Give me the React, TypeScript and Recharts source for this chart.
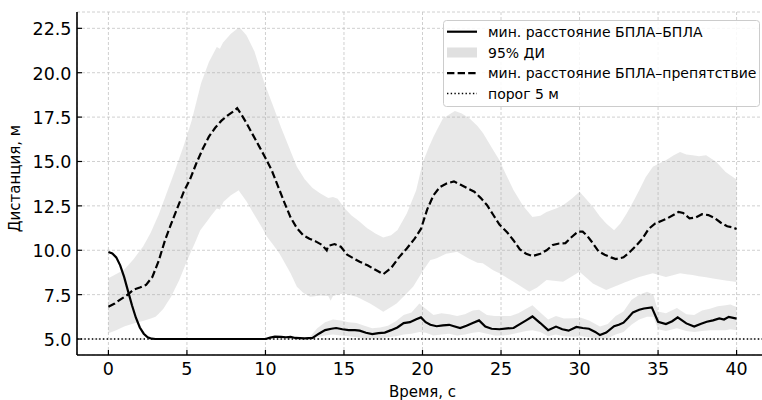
import React from 'react';
import { ComposedChart, Line, Area, XAxis, YAxis, CartesianGrid, ReferenceLine, Legend } from 'recharts';

// ---- data ----
const uavTime = [0, 0.25, 0.5, 0.75, 1.0, 1.25, 1.5, 1.75, 2.0, 2.25, 2.5, 2.75, 3.0, 10.0, 10.3, 10.6, 11.0, 11.3, 11.6, 11.9, 12.5, 13.0, 13.4, 13.8, 14.2, 14.5, 14.9, 15.3, 15.7, 16.0, 16.4, 16.8, 17.2, 17.6, 18.0, 18.4, 18.8, 19.2, 19.6, 19.9, 20.2, 20.5, 20.9, 21.3, 21.7, 22.0, 22.4, 22.8, 23.2, 23.6, 24.0, 24.4, 24.9, 25.4, 25.8, 26.2, 26.6, 27.0, 27.5, 28.0, 28.5, 28.9, 29.3, 29.8, 30.2, 30.6, 31.0, 31.3, 31.7, 32.2, 32.5, 32.8, 33.1, 33.4, 33.8, 34.1, 34.6, 35.0, 35.5, 35.9, 36.25, 36.8, 37.3, 37.7, 38.1, 38.5, 38.9, 39.2, 39.5, 40.0];
const uavDist = [9.9, 9.82, 9.6, 9.15, 8.5, 7.7, 6.9, 6.2, 5.65, 5.3, 5.1, 5.02, 5.0, 5.0, 5.08, 5.13, 5.12, 5.1, 5.12, 5.06, 5.04, 5.06, 5.3, 5.5, 5.58, 5.62, 5.55, 5.5, 5.5, 5.47, 5.35, 5.28, 5.33, 5.36, 5.5, 5.65, 5.9, 5.95, 6.12, 6.22, 5.95, 5.8, 5.72, 5.77, 5.8, 5.72, 5.62, 5.75, 5.9, 6.05, 5.7, 5.58, 5.55, 5.6, 5.62, 5.84, 6.05, 6.27, 5.9, 5.5, 5.7, 5.55, 5.47, 5.68, 5.62, 5.58, 5.4, 5.22, 5.36, 5.72, 5.8, 5.92, 6.2, 6.5, 6.65, 6.72, 6.78, 5.97, 5.84, 6.0, 6.22, 5.88, 5.7, 5.85, 5.97, 6.05, 6.16, 6.1, 6.25, 6.15];

const uavCiTime = [12.8, 13.3, 13.8, 14.3, 14.8, 15.3, 15.8, 16.3, 16.8, 17.3, 17.8, 18.3, 18.8, 19.3, 19.8, 20.2, 20.7, 21.2, 21.7, 22.2, 22.7, 23.2, 23.6, 24.1, 24.6, 25.1, 25.6, 26.1, 26.6, 27.0, 27.5, 28.0, 28.5, 29.0, 29.6, 30.1, 30.6, 31.3, 31.8, 32.3, 32.8, 33.3, 33.8, 34.3, 34.7, 35.0, 35.5, 36.2, 36.8, 37.3, 37.8, 38.3, 38.8, 39.3, 39.6, 40.0];
const uavCiLow = [5.0, 5.1, 5.2, 5.25, 5.2, 5.15, 5.1, 5.05, 5.02, 5.05, 5.1, 5.15, 5.25, 5.3, 5.4, 5.35, 5.2, 5.25, 5.3, 5.2, 5.25, 5.35, 5.4, 5.3, 5.2, 5.2, 5.25, 5.35, 5.45, 5.5, 5.4, 5.15, 5.25, 5.15, 5.13, 5.15, 5.1, 5.02, 5.05, 5.25, 5.4, 5.8, 6.1, 6.25, 6.25, 5.55, 5.45, 5.6, 5.45, 5.4, 5.45, 5.5, 5.5, 5.5, 5.55, 5.5];
const uavCiHigh = [5.1, 5.6, 5.95, 6.1, 6.05, 5.95, 5.9, 5.75, 5.6, 5.65, 5.75, 6.0, 6.35, 6.5, 7.0, 6.7, 6.35, 6.45, 6.4, 6.3, 6.4, 6.6, 6.65, 6.35, 6.3, 6.3, 6.3, 6.45, 6.7, 6.9, 6.5, 6.1, 6.3, 6.15, 6.17, 6.2, 6.05, 5.7, 5.85, 6.3, 6.55, 7.2, 7.5, 7.66, 7.5, 6.55, 6.45, 6.75, 6.4, 6.35, 6.6, 6.7, 6.85, 6.9, 6.95, 6.8];

const obsTime = [0, 0.4, 0.8, 1.2, 1.6, 2.0, 2.4, 2.8, 3.2, 3.6, 4.0, 4.4, 4.8, 5.2, 5.6, 6.0, 6.4, 6.8, 7.2, 7.6, 8.0, 8.2, 8.5, 8.8, 9.2, 9.6, 10.0, 10.4, 10.8, 11.2, 11.6, 12.0, 12.4, 12.8, 13.2, 13.6, 13.9, 14.0, 14.4, 14.8, 15.2, 15.6, 16.0, 16.5, 17.0, 17.5, 18.0, 18.5, 19.0, 19.5, 19.9, 20.3, 20.7, 21.1, 21.5, 22.0, 22.4, 22.8, 23.3, 23.7, 24.1, 24.5, 24.9, 25.4, 25.8, 26.2, 26.6, 27.0, 27.5, 27.9, 28.3, 28.7, 29.1, 29.5, 29.9, 30.2, 30.5, 30.8, 31.2, 31.6, 32.0, 32.3, 32.8, 33.2, 33.6, 34.0, 34.4, 34.8, 35.2, 35.6, 36.0, 36.3, 36.6, 37.0, 37.4, 37.8, 38.2, 38.6, 39.0, 39.4, 39.7, 40.0];
const obsDist = [6.82, 7.0, 7.25, 7.48, 7.78, 7.9, 8.05, 8.5, 9.4, 10.55, 11.5, 12.4, 13.3, 14.0, 14.9, 15.7, 16.4, 16.9, 17.3, 17.6, 17.85, 18.0, 17.6, 17.15, 16.5, 15.85, 15.2, 14.5, 13.6, 12.7, 11.85, 11.25, 10.85, 10.65, 10.5, 10.3, 10.0, 10.25, 10.35, 10.2, 9.75, 9.55, 9.35, 9.15, 8.9, 8.65, 9.0, 9.6, 10.1, 10.65, 11.2, 12.3, 13.1, 13.55, 13.75, 13.88, 13.7, 13.52, 13.3, 12.95, 12.55, 12.0, 11.45, 11.0, 10.55, 10.05, 9.8, 9.67, 9.8, 10.0, 10.3, 10.38, 10.4, 10.75, 11.05, 11.05, 10.8, 10.45, 9.95, 9.75, 9.6, 9.5, 9.6, 9.9, 10.25, 10.65, 11.2, 11.5, 11.65, 11.8, 12.0, 12.16, 12.1, 11.8, 11.85, 12.03, 11.98, 11.82, 11.55, 11.35, 11.3, 11.2];

const obsCiUpTime = [0, 1.0, 1.6, 2.2, 2.7, 3.2, 3.7, 4.2, 4.8, 5.3, 5.9, 6.4, 6.9, 7.1, 7.3, 7.8, 8.2, 8.4, 8.8, 9.3, 9.9, 10.5, 11.0, 11.5, 12.0, 12.5, 13.0, 13.5, 14.0, 14.3, 14.6, 15.0, 15.5, 16.0, 16.5, 17.0, 17.5, 18.0, 18.4, 19.0, 19.6, 20.0, 20.4, 20.7, 21.3, 22.06, 22.5, 23.0, 23.5, 23.85, 24.5, 24.9, 25.3, 25.8, 26.4, 27.0, 27.5, 27.9, 28.5, 28.95, 29.5, 30.0, 30.4, 30.85, 31.3, 31.7, 32.2, 32.6, 33.0, 33.4, 33.8, 34.2, 34.67, 35.1, 35.5, 36.0, 36.4, 36.8, 37.2, 37.6, 38.06, 38.7, 39.3, 39.9, 40.0];
const obsCiHigh = [8.42, 8.9, 9.5, 10.2, 11.0, 12.0, 13.2, 14.4, 15.9, 17.3, 19.4, 20.6, 21.45, 21.35, 21.7, 22.2, 22.48, 22.5, 22.1, 21.2, 19.5, 18.1, 16.9, 15.8, 14.7, 14.0, 13.5, 13.2, 12.95, 13.0, 12.9, 12.4, 11.95, 11.6, 11.23, 10.95, 10.72, 10.85, 11.13, 12.07, 13.38, 14.9, 15.8, 16.4, 17.42, 17.85, 17.7, 17.42, 17.0, 16.6, 15.64, 15.07, 14.3, 13.38, 12.5, 11.88, 11.95, 12.16, 12.35, 12.54, 12.9, 13.29, 12.9, 12.45, 11.9, 11.51, 11.13, 11.5, 12.07, 12.7, 13.38, 14.1, 14.7, 14.9, 15.07, 15.35, 15.54, 15.4, 15.35, 15.3, 15.35, 14.98, 14.41, 14.04, 14.0];

const obsCiLowTime = [0, 0.5, 1.0, 1.5, 2.0, 2.5, 3.0, 3.5, 4.0, 4.5, 5.0, 5.5, 5.85, 6.5, 6.9, 7.1, 7.33, 7.8, 8.29, 8.8, 9.24, 9.7, 10.1, 10.5, 10.9, 11.25, 11.6, 12.0, 12.4, 12.84, 13.5, 14.0, 14.15, 14.3, 14.96, 15.8, 16.66, 17.5, 18.35, 19.4, 20.05, 20.5, 20.9, 21.5, 22.2, 22.8, 23.5, 23.86, 24.5, 24.9, 25.8, 26.8, 27.3, 27.9, 28.95, 30.0, 30.85, 31.7, 32.97, 33.8, 34.67, 35.5, 36.4, 37.2, 38.5, 39.9, 40.0];
const obsCiLow = [5.32, 5.5, 5.7, 5.85, 5.97, 6.1, 6.25, 6.7, 7.4, 8.3, 9.4, 10.4, 11.13, 11.9, 12.35, 12.3, 12.73, 13.1, 13.38, 12.75, 12.07, 11.4, 10.76, 10.3, 9.8, 9.25, 8.7, 7.94, 7.6, 7.38, 7.45, 7.42, 7.15, 7.42, 7.57, 7.38, 7.0, 6.54, 7.0, 7.94, 8.88, 9.45, 9.55, 9.8, 9.91, 9.6, 9.3, 9.26, 8.88, 8.7, 8.22, 7.66, 7.9, 8.32, 8.22, 8.79, 8.13, 7.76, 8.22, 8.5, 8.7, 8.5, 8.7, 8.6, 8.41, 8.22, 8.2];

const xTicks = [0, 5, 10, 15, 20, 25, 30, 35, 40];
const yTicks = [5, 7.5, 10, 12.5, 15, 17.5, 20, 22.5];
const threshold = 5;
const xLabel = 'Время, с';
const yLabel = 'Дистанция, м';
const legendLabels = ['мин. расстояние БПЛА–БПЛА', '95% ДИ', 'мин. расстояние БПЛА–препятствие', 'порог 5 м'];

// ---- build series for the library ----
const interp = (ts: number[], vs: number[], t: number) => {
  if (t <= ts[0]) return vs[0];
  for (let i = 1; i < ts.length; i++) {
    if (t <= ts[i]) {
      const f = (t - ts[i - 1]) / (ts[i] - ts[i - 1]);
      return vs[i - 1] + f * (vs[i] - vs[i - 1]);
    }
  }
  return vs[vs.length - 1];
};

const uavData = uavTime.map((t, i) => ({ t, v: uavDist[i] }));
const obsData = obsTime.map((t, i) => ({ t, v: obsDist[i] }));
const uavCiData = uavCiTime.map((t, i) => ({ t, range: [uavCiLow[i], uavCiHigh[i]] }));
// merge the read-off time points of both edges of the obstacle CI
const obsCiTimes = Array.from(new Set([...obsCiUpTime, ...obsCiLowTime])).sort((a, b) => a - b);
const obsCiData = obsCiTimes.map((t) => ({
  t,
  range: [
    obsCiLowTime.includes(t) ? obsCiLow[obsCiLowTime.indexOf(t)] : interp(obsCiLowTime, obsCiLow, t),
    obsCiUpTime.includes(t) ? obsCiHigh[obsCiUpTime.indexOf(t)] : interp(obsCiUpTime, obsCiHigh, t),
  ],
}));

const FONT = 'DejaVu Sans, Verdana, sans-serif';
const BAND = '#a8a8a8';
const BAND_OP = 0.26;

const XTick = (props: any) => {
  const { x, y, payload } = props;
  return (
    <g>
      <line x1={x} x2={x} y1={y} y2={y - 5} stroke="#000" strokeWidth={1.2} />
      <text x={x} y={y + 20} textAnchor="middle" fontSize={17.5} fontFamily={FONT} fill="#000">
        {payload.value}
      </text>
    </g>
  );
};

const YTick = (props: any) => {
  const { x, y, payload } = props;
  return (
    <g>
      <line x1={x} x2={x + 5} y1={y} y2={y} stroke="#000" strokeWidth={1.2} />
      <text x={x - 5.5} y={y + 7} textAnchor="end" fontSize={17.5} fontFamily={FONT} fill="#000">
        {Number(payload.value).toFixed(1)}
      </text>
    </g>
  );
};

const renderXLabel = (p: any) => {
  const vb = p.viewBox || { x: 77, y: 355, width: 691, height: 45 };
  return (
    <text x={vb.x + vb.width / 2} y={vb.y + 42} textAnchor="middle" fontSize={15} fontFamily={FONT} fill="#000">
      {xLabel}
    </text>
  );
};

const renderYLabel = (p: any) => {
  const vb = p.viewBox || { x: 0, y: 12, width: 77, height: 343 };
  const cx = vb.x + 15;
  const cy = vb.y + vb.height / 2 - 5;
  return (
    <text
      x={cx}
      y={cy}
      transform={`rotate(-90 ${cx} ${cy})`}
      textAnchor="middle"
      dominantBaseline="central"
      fontSize={15}
      fontFamily={FONT}
      fill="#000"
    >
      {yLabel}
    </text>
  );
};

const LegendBox = () => {
  const rowY = [11.7, 32.5, 53.2, 73.5];
  return (
    <svg width={317} height={87} style={{ display: 'block' }}>
      <rect x={0.5} y={0.5} width={316} height={86} rx={3} ry={3} fill="rgba(255,255,255,0.85)" stroke="#cccccc" strokeWidth={1} />
      <line x1={4} x2={34} y1={rowY[0]} y2={rowY[0]} stroke="#000" strokeWidth={2.2} />
      <rect x={4} y={rowY[1] - 5} width={30} height={10} fill={BAND} fillOpacity={BAND_OP + 0.1} />
      <line x1={4} x2={34} y1={rowY[2]} y2={rowY[2]} stroke="#000" strokeWidth={2.2} strokeDasharray="7.4 3.2" />
      <line x1={4} x2={34} y1={rowY[3]} y2={rowY[3]} stroke="#000" strokeWidth={1.4} strokeDasharray="1.4 2.3" />
      {legendLabels.map((lab, i) => (
        <text key={lab} x={45} y={rowY[i] + 5} fontSize={14} fontFamily={FONT} fill="#000">
          {lab}
        </text>
      ))}
    </svg>
  );
};

export default function App() {
  return (
    <div style={{ position: 'absolute', left: 0, top: 0, width: 762, height: 400, overflow: 'hidden', background: '#fff' }}>
      <ComposedChart width={768} height={400} margin={{ top: 12, right: 0, left: 0, bottom: 0 }}>
        <CartesianGrid stroke="#c4c4c4" strokeWidth={0.8} strokeDasharray="3 2" vertical horizontal />
        <XAxis
          type="number"
          dataKey="t"
          domain={[-2, 42]}
          ticks={xTicks}
          allowDataOverflow
          height={45}
          tickSize={0}
          tickMargin={0}
          tickLine={false}
          tick={<XTick />}
          axisLine={{ stroke: '#000', strokeWidth: 1.6 }}
          label={{ value: xLabel, content: renderXLabel }}
        />
        <YAxis
          type="number"
          domain={[4.1, 23.42]}
          ticks={yTicks}
          allowDataOverflow
          width={77}
          tickSize={0}
          tickMargin={0}
          tickLine={false}
          tick={<YTick />}
          axisLine={{ stroke: '#000', strokeWidth: 1.6 }}
          label={{ value: yLabel, content: renderYLabel }}
        />
        <Area
          data={obsCiData}
          dataKey="range"
          type="linear"
          stroke="none"
          fill={BAND}
          fillOpacity={BAND_OP}
          isAnimationActive={false}
          legendType="none"
        />
        <Area
          data={uavCiData}
          dataKey="range"
          type="linear"
          stroke="none"
          fill={BAND}
          fillOpacity={BAND_OP}
          isAnimationActive={false}
          legendType="none"
        />
        <ReferenceLine y={threshold} stroke="#000" strokeWidth={1.4} strokeDasharray="1.4 2.3" />
        <Line
          data={obsData}
          dataKey="v"
          type="linear"
          stroke="#000"
          strokeWidth={2.2}
          strokeDasharray="7.4 3.2"
          dot={false}
          isAnimationActive={false}
        />
        <Line
          data={uavData}
          dataKey="v"
          type="linear"
          stroke="#000"
          strokeWidth={2.2}
          dot={false}
          isAnimationActive={false}
        />
        <Legend
          layout="horizontal"
          verticalAlign="middle"
          align="center"
          content={() => <LegendBox />}
          wrapperStyle={{ position: 'absolute', left: 443, top: 20, width: 317, height: 87 }}
        />
      </ComposedChart>
    </div>
  );
}
